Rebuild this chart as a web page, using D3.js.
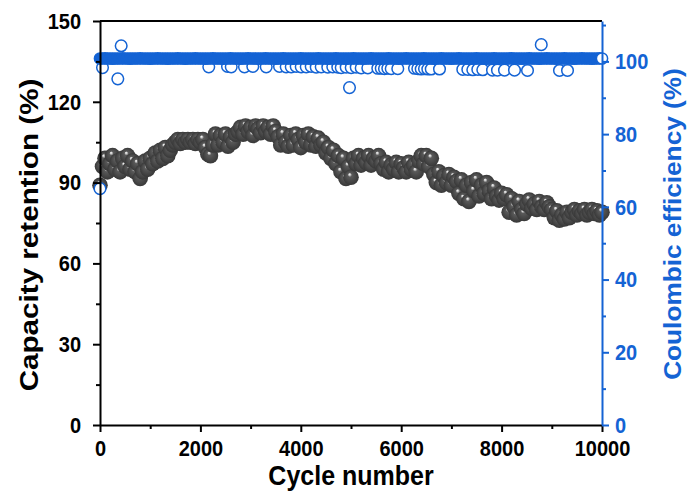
<!DOCTYPE html>
<html>
<head>
<meta charset="utf-8">
<script src="https://cdn.jsdelivr.net/npm/d3@7"></script>
<style>
  html, body { margin: 0; padding: 0; background: #ffffff; }
  svg { display: block; font-family: "Liberation Sans", Arial, sans-serif; }
  .tick text { font-weight: bold; }
  .titulo { font-weight: bold; }
</style>
</head>
<body>
<svg id="chart" width="691" height="494"></svg>
<script>
// ciclos muestreados (cada 50)
const cycles = [
  0, 50, 100, 150, 200, 250, 300, 350, 400, 450,
  500, 550, 600, 650, 700, 750, 800, 850, 900, 950,
  1000, 1050, 1100, 1150, 1200, 1250, 1300, 1350, 1400, 1450,
  1500, 1550, 1600, 1650, 1700, 1750, 1800, 1850, 1900, 1950,
  2000, 2050, 2100, 2150, 2200, 2250, 2300, 2350, 2400, 2450,
  2500, 2550, 2600, 2650, 2700, 2750, 2800, 2850, 2900, 2950,
  3000, 3050, 3100, 3150, 3200, 3250, 3300, 3350, 3400, 3450,
  3500, 3550, 3600, 3650, 3700, 3750, 3800, 3850, 3900, 3950,
  4000, 4050, 4100, 4150, 4200, 4250, 4300, 4350, 4400, 4450,
  4500, 4550, 4600, 4650, 4700, 4750, 4800, 4850, 4900, 4950,
  5000, 5050, 5100, 5150, 5200, 5250, 5300, 5350, 5400, 5450,
  5500, 5550, 5600, 5650, 5700, 5750, 5800, 5850, 5900, 5950,
  6000, 6050, 6100, 6150, 6200, 6250, 6300, 6350, 6400, 6450,
  6500, 6550, 6600, 6650, 6700, 6750, 6800, 6850, 6900, 6950,
  7000, 7050, 7100, 7150, 7200, 7250, 7300, 7350, 7400, 7450,
  7500, 7550, 7600, 7650, 7700, 7750, 7800, 7850, 7900, 7950,
  8000, 8050, 8100, 8150, 8200, 8250, 8300, 8350, 8400, 8450,
  8500, 8550, 8600, 8650, 8700, 8750, 8800, 8850, 8900, 8950,
  9000, 9050, 9100, 9150, 9200, 9250, 9300, 9350, 9400, 9450,
  9500, 9550, 9600, 9650, 9700, 9750, 9800, 9850, 9900, 9950,
  10000
];

// retención de capacidad (%)
const retention = [
  89, 96, 99, 94, 97, 100, 95, 98, 94, 99,
  96, 100, 95, 98, 94, 97, 91.5, 94, 98, 95,
  99, 97, 101, 98, 102, 99, 103, 100, 102, 104,
  105, 106, 104.5, 106, 105, 106, 105, 106, 104.5, 106,
  105, 106, 103, 100.5, 100, 104, 108, 104, 107.5, 105,
  108, 103.5, 107, 105, 108, 109, 110.5, 108, 111, 109,
  110.5, 107.5, 111, 110, 108.5, 111, 109, 110.5, 108, 111,
  109, 107, 104, 108, 105, 103.5, 107.5, 104, 108, 106,
  103, 107.5, 105, 108, 104, 107, 103.5, 106.5, 104, 105,
  101, 103, 99, 102, 97, 100, 94, 99, 91.5, 96,
  92, 99, 97, 100, 96.5, 99, 97.5, 100, 96.5, 99,
  98, 100, 97, 95, 97.5, 94, 96.5, 95, 97.5, 94,
  97, 95.5, 94, 97.5, 95, 96.5, 94, 98, 100, 97,
  100, 96, 99, 93, 90, 94, 89, 92.5, 90, 93,
  89, 92, 90.5, 86, 91, 84, 89, 83, 90, 87,
  91, 85, 89, 86, 90, 87, 84, 88, 85, 83.5,
  86, 84, 85.5, 79, 84, 81, 78, 83, 80, 78.5,
  82, 83.5, 80.5, 82, 80, 83, 81, 80, 82.5, 81,
  80, 77, 79.5, 76, 78, 76.5, 79, 77, 79, 80,
  78, 79.5, 78.5, 80, 78, 79, 80, 78.5, 79.5, 78,
  79
];

// eficiencia coulómbica (%) en los mismos ciclos
const ceMain = [
  100.8, 100.8, 100.85, 100.8, 100.8, 100.75, 100.8, 100.8, 100.8, 100.85,
  100.8, 100.8, 100.75, 100.8, 100.8, 100.8, 100.85, 100.8, 100.8, 100.8,
  100.75, 100.8, 100.8, 100.85, 100.8, 100.8, 100.8, 100.75, 100.8, 100.8,
  100.8, 100.85, 100.8, 100.8, 100.75, 100.8, 100.8, 100.8, 100.85, 100.8,
  100.8, 100.8, 100.75, 100.8, 100.8, 100.85, 100.8, 100.8, 100.8, 100.75,
  100.8, 100.8, 100.85, 100.8, 100.8, 100.8, 100.75, 100.8, 100.8, 100.85,
  100.8, 100.8, 100.8, 100.75, 100.8, 100.8, 100.85, 100.8, 100.8, 100.8,
  100.75, 100.8, 100.8, 100.85, 100.8, 100.8, 100.8, 100.75, 100.8, 100.8,
  100.85, 100.8, 100.8, 100.8, 100.75, 100.8, 100.8, 100.85, 100.8, 100.8,
  100.8, 100.75, 100.8, 100.8, 100.85, 100.8, 100.8, 100.8, 100.75, 100.8,
  100.8, 100.85, 100.8, 100.8, 100.8, 100.75, 100.8, 100.8, 100.85, 100.8,
  100.8, 100.8, 100.75, 100.8, 100.8, 100.85, 100.8, 100.8, 100.8, 100.75,
  100.8, 100.8, 100.85, 100.8, 100.8, 100.8, 100.75, 100.8, 100.8, 100.85,
  100.8, 100.8, 100.8, 100.75, 100.8, 100.8, 100.85, 100.8, 100.8, 100.8,
  100.75, 100.8, 100.8, 100.85, 100.8, 100.8, 100.8, 100.75, 100.8, 100.8,
  100.85, 100.8, 100.8, 100.8, 100.75, 100.8, 100.8, 100.85, 100.8, 100.8,
  100.8, 100.75, 100.8, 100.8, 100.85, 100.8, 100.8, 100.8, 100.75, 100.8,
  100.8, 100.85, 100.8, 100.8, 100.8, 100.75, 100.8, 100.8, 100.85, 100.8,
  100.8, 100.8, 100.75, 100.8, 100.8, 100.85, 100.8, 100.8, 100.8, 100.75,
  100.8, 100.8, 100.85, 100.8, 100.8, 100.8, 100.75, 100.8, 100.8, 100.85,
  100.8
];

// puntos de eficiencia fuera de la banda
const ceOutCycles = [
  0, 50, 355, 422, 2167, 2540, 2614, 2878, 3044, 3311,
  3576, 3709, 3809, 3908, 4008, 4108, 4207, 4307, 4406, 4538,
  4637, 4737, 4805, 4904, 4970, 5004, 5104, 5203, 5335, 5534,
  5602, 5667, 5733, 5801, 5932, 6265, 6331, 6398, 6464, 6530,
  6598, 6763, 7227, 7327, 7426, 7526, 7625, 7819, 7918, 8058,
  8257, 8516, 8790, 9153, 9313
];
const ceOutValues = [
  65, 98.3, 95.2, 104.3, 98.5, 98.6, 98.5, 98.5, 98.6, 98.5,
  98.6, 98.5, 98.5, 98.6, 98.5, 98.5, 98.6, 98.4, 98.5, 98.4,
  98.5, 98.4, 98.3, 98.4, 92.8, 98.3, 98.4, 98.2, 98.2, 98.1,
  98.1, 98.0, 98.1, 98.0, 98.0, 98.1, 98.0, 97.9, 98.0, 97.9,
  97.9, 97.9, 97.8, 97.8, 97.7, 97.8, 97.7, 97.6, 97.6, 97.6,
  97.6, 97.5, 104.6, 97.5, 97.5
];

const xTicks = [0, 2000, 4000, 6000, 8000, 10000];
const xMinor = [1000, 3000, 5000, 7000, 9000];
const yLeftTicks = [0, 30, 60, 90, 120, 150];
const yLeftMinor = [15, 45, 75, 105, 135];
const yRightTicks = [0, 20, 40, 60, 80, 100];
const yRightMinor = [10, 30, 50, 70, 90, 110];

const azul = "#1463d4";
const margen = { top: 21, right: 89, bottom: 69, left: 100 };
const width = 691, height = 494;
const estiramiento = 1.14; // el texto del original se ve algo más alto que ancho

const svg = d3.select("#chart");

const x = d3.scaleLinear().domain([0, 10000]).range([margen.left, width - margen.right]);
const yLeft = d3.scaleLinear().domain([0, 150]).range([height - margen.bottom, margen.top]);
const yRight = d3.scaleLinear().domain([0, 1000 / 9]).range([height - margen.bottom, margen.top]);

// gradiente para las esferas grises
const defs = svg.append("defs");
const grad = defs.append("radialGradient")
  .attr("id", "esfera")
  .attr("cx", "50%").attr("cy", "50%").attr("r", "50%")
  .attr("fx", "40%").attr("fy", "30%");
grad.append("stop").attr("offset", "0%").attr("stop-color", "#f6f6f6");
grad.append("stop").attr("offset", "11%").attr("stop-color", "#cfcfcf");
grad.append("stop").attr("offset", "27%").attr("stop-color", "#5a5a5a");
grad.append("stop").attr("offset", "75%").attr("stop-color", "#444444");
grad.append("stop").attr("offset", "100%").attr("stop-color", "#383838");

// retención
const datosRet = cycles.map((c, i) => ({ c, v: retention[i] }));
svg.append("g")
  .selectAll("circle")
  .data(datosRet)
  .join("circle")
  .attr("cx", d => x(d.c))
  .attr("cy", d => yLeft(d.v))
  .attr("r", 7.8)
  .attr("fill", "url(#esfera)");

// eficiencia: puntos sueltos (abiertos)
const datosOut = ceOutCycles.map((c, i) => ({ c, v: ceOutValues[i] }));
svg.append("g")
  .selectAll("circle")
  .data(datosOut)
  .join("circle")
  .attr("cx", d => x(d.c))
  .attr("cy", d => yRight(d.v))
  .attr("r", 5.8)
  .attr("fill", "#ffffff")
  .attr("stroke", azul)
  .attr("stroke-width", 1.5);

// eficiencia: banda densa
const datosCE = cycles.map((c, i) => ({ c, v: ceMain[i], ultimo: i === cycles.length - 1 }));
svg.append("g")
  .selectAll("circle")
  .data(datosCE)
  .join("circle")
  .attr("cx", d => x(d.c))
  .attr("cy", d => yRight(d.v))
  .attr("r", 5.6)
  .attr("fill", d => d.ultimo ? "#ffffff" : azul)
  .attr("stroke", azul)
  .attr("stroke-width", 1.5);

// marco superior
svg.append("line")
  .attr("x1", margen.left).attr("x2", width - margen.right)
  .attr("y1", margen.top).attr("y2", margen.top)
  .attr("stroke", "#000").attr("stroke-width", 2);

function estilizar(g, colorEje) {
  g.select(".domain").attr("stroke", colorEje).attr("stroke-width", 2);
  g.selectAll(".tick line").attr("stroke", colorEje).attr("stroke-width", 2);
  g.selectAll(".tick text")
    .attr("fill", colorEje)
    .style("font-size", "20px")
    .attr("transform", `scale(1,${estiramiento})`);
}

// eje x
const gx = svg.append("g").attr("transform", `translate(0,${height - margen.bottom})`);
gx.call(d3.axisBottom(x).tickValues(xTicks).tickSize(7).tickSizeOuter(0).tickPadding(6).tickFormat(d3.format("d")));
estilizar(gx, "#000");
const gxm = svg.append("g").attr("transform", `translate(0,${height - margen.bottom})`);
gxm.call(d3.axisBottom(x).tickValues(xMinor).tickSize(4).tickSizeOuter(0).tickFormat(""));
gxm.select(".domain").remove();
gxm.selectAll(".tick line").attr("stroke", "#000").attr("stroke-width", 2);

// eje izquierdo
const gy = svg.append("g").attr("transform", `translate(${margen.left},0)`);
gy.call(d3.axisLeft(yLeft).tickValues(yLeftTicks).tickSize(7).tickSizeOuter(0).tickPadding(12));
estilizar(gy, "#000");
const gym = svg.append("g").attr("transform", `translate(${margen.left},0)`);
gym.call(d3.axisLeft(yLeft).tickValues(yLeftMinor).tickSize(4).tickSizeOuter(0).tickFormat(""));
gym.select(".domain").remove();
gym.selectAll(".tick line").attr("stroke", "#000").attr("stroke-width", 2);

// eje derecho
const gr = svg.append("g").attr("transform", `translate(${width - margen.right},0)`);
gr.call(d3.axisRight(yRight).tickValues(yRightTicks).tickSize(7).tickSizeOuter(0).tickPadding(6));
estilizar(gr, azul);
const grm = svg.append("g").attr("transform", `translate(${width - margen.right},0)`);
grm.call(d3.axisRight(yRight).tickValues(yRightMinor).tickSize(4).tickSizeOuter(0).tickFormat(""));
grm.select(".domain").remove();
grm.selectAll(".tick line").attr("stroke", azul).attr("stroke-width", 2);

// títulos
svg.append("text")
  .attr("class", "titulo")
  .attr("transform", `translate(${(margen.left + width - margen.right) / 2},485) scale(1,${estiramiento})`)
  .attr("text-anchor", "middle")
  .style("font-size", "25px")
  .text("Cycle number");

svg.append("text")
  .attr("class", "titulo")
  .attr("transform", `translate(38,235) rotate(-90) scale(${estiramiento},1)`)
  .attr("text-anchor", "middle")
  .style("font-size", "26px")
  .text("Capacity retention (%)");

svg.append("text")
  .attr("class", "titulo")
  .attr("transform", `translate(681,224) rotate(-90) scale(${estiramiento},1)`)
  .attr("text-anchor", "middle")
  .attr("fill", azul)
  .style("font-size", "23px")
  .text("Coulombic efficiency (%)");
</script>
</body>
</html>
